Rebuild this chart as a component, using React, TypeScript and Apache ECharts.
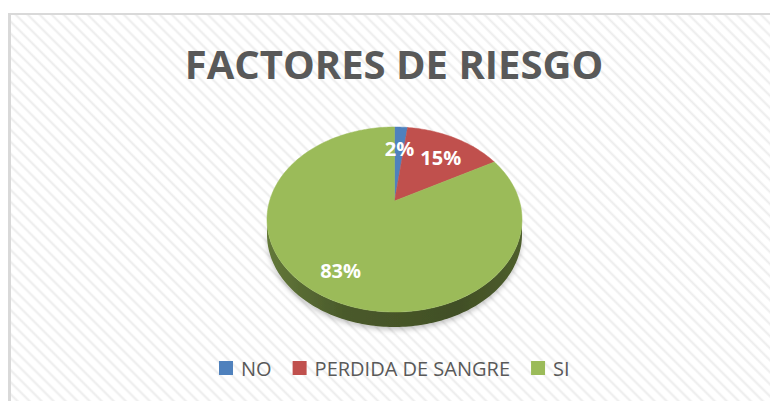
import React, { useEffect, useRef } from "react";
import * as echarts from "echarts";

const TITLE = "FACTORES DE RIESGO";
const NAMES = ["NO", "PERDIDA DE SANGRE", "SI"];
const VALUES = [2, 15, 83];
const COLORS = ["#4f81bd", "#c0504d", "#9bbb59"];

// geometry of the tilted pie (page pixels)
const CX = 394.5;
const CY = 219.5;
const RX = 127.5;
const RY = 92.5;
const DEPTH = 15;
const PERSP = 0.2;
const LABEL_R = 0.74;
const LABEL_DY = 5;

const TOTAL = VALUES.reduce((a, b) => a + b, 0);
const SX = RX * Math.sqrt(1 - PERSP * PERSP);
const SY = RY * (1 - PERSP * PERSP);
const APEX_Y = CY - RY * PERSP;

function shade(hex: string, f: number) {
  const n = parseInt(hex.slice(1), 16);
  const r = Math.round(((n >> 16) & 255) * f);
  const g = Math.round(((n >> 8) & 255) * f);
  const b = Math.round((n & 255) * f);
  return `rgb(${r},${g},${b})`;
}

// perspective projection of a point of the unit disc (angle clockwise from 12 o'clock)
function proj(a: number, r: number, dy: number) {
  const u = r * Math.sin(a);
  const v = -r * Math.cos(a);
  const d = 1 - PERSP * v;
  return [CX + (SX * u) / d, APEX_Y + (SY * v) / d + dy];
}

function arc(a0: number, a1: number, dy: number) {
  const pts: number[][] = [];
  const n = Math.max(2, Math.ceil((a1 - a0) / 0.02));
  for (let k = 0; k <= n; k++) pts.push(proj(a0 + ((a1 - a0) * k) / n, 1, dy));
  return pts;
}

function renderSlice(params: any, api: any) {
  const i = params.seriesIndex;
  const value = api.value(0);
  let before = 0;
  for (let k = 0; k < i; k++) before += VALUES[k];
  const a0 = (before / TOTAL) * Math.PI * 2;
  const a1 = ((before + value) / TOTAL) * Math.PI * 2;
  const color = COLORS[i];
  const children: any[] = [];

  const edge = Math.acos(-PERSP);
  const s = Math.max(a0, edge);
  const e = Math.min(a1, Math.PI * 2 - edge);
  if (e > s) {
    const top = arc(s, e, 0);
    const bottom = arc(s, e, DEPTH).reverse();
    children.push({
      type: "polygon",
      z2: 1,
      shape: { points: top.concat(bottom) },
      style: {
        fill: new echarts.graphic.LinearGradient(
          CX - RX, 0, CX + RX, 0,
          [
            { offset: 0, color: shade(color, 0.64) },
            { offset: 0.3, color: shade(color, 0.48) },
            { offset: 0.75, color: shade(color, 0.42) },
            { offset: 1, color: shade(color, 0.5) },
          ],
          true
        ),
        shadowColor: "rgba(0,0,0,0.22)",
        shadowBlur: 5,
        shadowOffsetY: 3,
      },
    });
  }

  const face = [[CX, APEX_Y]].concat(arc(a0, a1, 0));
  children.push({
    type: "polygon",
    z2: 5,
    shape: { points: face },
    style: { fill: color, stroke: color, lineWidth: 0.5 },
  });

  const mid = (a0 + a1) / 2;
  const pos = proj(mid, LABEL_R, LABEL_DY);
  const pct = Math.round((value / TOTAL) * 100) + "%";
  children.push({
    type: "text",
    z2: 100,
    x: pos[0],
    y: pos[1],
    style: {
      text: pct,
      fill: "#ffffff",
      fontFamily: "Open Sans",
      fontWeight: "bold",
      fontSize: 20,
      align: "center",
      verticalAlign: "middle",
      textAlign: "center",
      textVerticalAlign: "middle",
    },
  });

  return { type: "group", children };
}

export default function App() {
  const ref = useRef<HTMLDivElement>(null);

  useEffect(() => {
    if (!ref.current) return;
    const chart = echarts.init(ref.current, null, { renderer: "svg" });
    chart.setOption({
      animation: false,
      color: COLORS,
      graphic: [
        {
          type: "text",
          x: 394,
          y: 63,
          style: {
            text: TITLE,
            fill: "#595959",
            fontFamily: "Open Sans",
            fontWeight: "bold",
            fontSize: 40,
            align: "center",
            verticalAlign: "middle",
            textAlign: "center",
            textVerticalAlign: "middle",
          },
        },
      ],
      legend: {
        left: 219,
        top: 358,
        padding: 0,
        icon: "rect",
        itemWidth: 14,
        itemHeight: 14,
        itemGap: 21,
        selectedMode: false,
        textStyle: {
          fontFamily: "Open Sans",
          fontSize: 20,
          color: "#595959",
          padding: [0, 0, 0, 3],
        },
        data: NAMES,
      },
      series: NAMES.map((name, i) => ({
        type: "custom",
        name,
        coordinateSystem: "none",
        silent: true,
        itemStyle: { color: COLORS[i] },
        renderItem: renderSlice,
        data: [[VALUES[i]]],
      })),
    });
    return () => chart.dispose();
  }, []);

  return (
    <div style={{ position: "absolute", left: 0, top: 0, width: 770, height: 401, background: "#ffffff", overflow: "hidden" }}>
      <div
        style={{
          position: "absolute",
          left: 8,
          top: 13,
          width: 770,
          height: 400,
          boxSizing: "border-box",
          borderLeft: "3px solid #d9d9d9",
          borderTop: "2px solid #d9d9d9",
          background:
            "repeating-linear-gradient(45deg, #ffffff 0px, #ffffff 2.5px, #ececec 4.5px, #ffffff 6.5px, #ffffff 8.5px)",
        }}
      />
      <div ref={ref} style={{ position: "absolute", left: 0, top: 0, width: 770, height: 401 }} />
    </div>
  );
}
